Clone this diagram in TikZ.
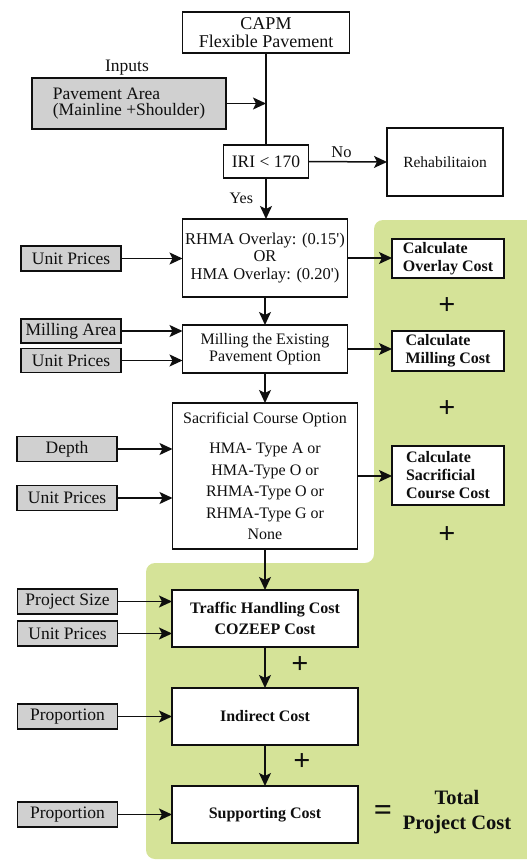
\documentclass[tikz,border=0pt]{standalone}
\usepackage{fontspec}
\setmainfont{Liberation Serif}
\usetikzlibrary{arrows.meta,calc}
\definecolor{bggreen}{RGB}{213,227,152}
\definecolor{boxgray}{RGB}{208,208,208}
\definecolor{ink}{RGB}{15,15,15}
\begin{document}
\begin{tikzpicture}[x=1pt,y=-1pt,
  every node/.style={inner sep=0pt, outer sep=0pt, text=ink},
  box/.style={draw=ink, line width=1.6pt, fill=white, align=center},
  inbox/.style={draw=ink, line width=1.6pt, fill=boxgray, align=center,
    minimum width=100pt, minimum height=25pt, font=\fontsize{17.5}{16.5}\selectfont},
  calcbox/.style={draw=ink, line width=1.6pt, fill=white, align=left,
    minimum width=112pt, font=\fontsize{16}{18}\selectfont\bfseries},
  plussign/.style={font=\fontsize{30}{30}\selectfont\bfseries},
  arr/.style={draw=ink, line width=1.5pt, -{Stealth[length=13pt,width=12pt,inset=3pt]}},
  conn/.style={draw=ink, line width=1.5pt}
]
\useasboundingbox (0,0) rectangle (527,862);
% green background
\begin{scope}
\clip (0,0) rectangle (527,862);
\fill[bggreen, rounded corners=9pt] (374,400) -- (374,220) -- (545,220) -- (545,859) -- (146,859) -- (146,563) -- (374,563) -- cycle;
\end{scope}

% top part
\node[box, minimum width=167pt, minimum height=41pt, font=\fontsize{18}{18}\selectfont] (capm) at (266,32.5) {CAPM\\Flexible Pavement};
\node[font=\fontsize{17.5}{17.5}\selectfont] (inputs) at (127,68) {Inputs};
\node[inbox, minimum width=194pt, minimum height=51pt, align=left] (pav) at (129,103.5) {Pavement Area\\(Mainline +Shoulder)};
\node[box, minimum width=85pt, minimum height=33pt, font=\fontsize{17.5}{17.5}\selectfont] (iri) at (266,161.5) {IRI < 170};
\node[box, minimum width=116pt, minimum height=68pt, font=\fontsize{15.5}{15.5}\selectfont] (rehab) at (445,162) {Rehabilitaion};
\coordinate (j1) at (pav.east -| capm.south);
\draw[conn] (capm.south) -- (iri.north);
\draw[arr] (pav.east) -- (j1);
\draw[arr] (iri.east) -- node[pos=0.42, above=4pt, font=\fontsize{16.5}{16.5}\selectfont] {No} (rehab.west);

% overlay
\node[box, minimum width=165pt, minimum height=78pt, font=\fontsize{16.5}{17.5}\selectfont] (rhma) at (265,258) {RHMA Overlay: (0.15\textquotesingle)\\OR\\HMA Overlay: (0.20\textquotesingle)};
\draw[arr] (iri.south) -- node[pos=0.5, left=13pt, font=\fontsize{16}{16}\selectfont] {Yes} (iri.south |- rhma.north);
\node[inbox] (up1) at (71,258.5) {Unit Prices};
\draw[arr] (up1.east) -- (up1.east -| rhma.west);
\node[calcbox, minimum height=39pt] (cov) at (448,258.5) {Calculate\\Overlay Cost};
\draw[arr] (rhma.east) -- (rhma.east -| cov.west);
\node[plussign] (p1) at (447,306) {+};

% milling
\node[box, minimum width=165pt, minimum height=48pt, font=\fontsize{16}{17}\selectfont] (mill) at (265,349) {Milling the Existing\\Pavement Option};
\draw[arr] (rhma.south) -- (mill.north);
\node[inbox, minimum height=24pt] (ma) at (71,331) {Milling Area};
\node[inbox, minimum height=24pt] (up2) at (71,360.5) {Unit Prices};
\draw[arr] (ma.east) -- (ma.east -| mill.west);
\draw[arr] (up2.east) -- (up2.east -| mill.west);
\node[calcbox, minimum height=40pt] (cmi) at (448,351) {Calculate\\Milling Cost};
\draw[arr] (mill.east) -- (mill.east -| cmi.west);
\node[plussign] (p2) at (447,409) {+};

% sacrificial
\node[box, minimum width=185pt, minimum height=146pt, font=\fontsize{16}{21.5}\selectfont] (sac) at (265,476) {Sacrificial Course Option\\[8.5pt]HMA- Type A or\\HMA-Type O or\\RHMA-Type O or\\RHMA-Type G or\\None};
\draw[arr] (mill.south) -- (sac.north);
\node[inbox] (depth) at (67,449) {Depth};
\node[inbox] (up3) at (67,498) {Unit Prices};
\draw[arr] (depth.east) -- (depth.east -| sac.west);
\draw[arr] (up3.east) -- (up3.east -| sac.west);
\node[calcbox, minimum height=59pt] (csac) at (448,475.5) {Calculate\\Sacrificial\\Course Cost};
\draw[arr] (sac.east) -- (sac.east -| csac.west);
\node[plussign] (p3) at (447,535) {+};

% lower costs
\node[box, minimum width=186pt, minimum height=57pt, font=\fontsize{16}{21}\selectfont\bfseries] (tr) at (265,618.5) {Traffic Handling Cost\\COZEEP Cost};
\draw[arr] (sac.south) -- (tr.north);
\node[inbox] (ps) at (67.5,601.5) {Project Size};
\node[inbox] (up4) at (67.5,633.5) {Unit Prices};
\draw[arr] (ps.east) -- (ps.east -| tr.west);
\draw[arr] (up4.east) -- (up4.east -| tr.west);

\node[box, minimum width=186pt, minimum height=57pt, font=\fontsize{16}{21}\selectfont\bfseries] (ind) at (265,716.5) {Indirect Cost};
\draw[arr] (tr.south) -- (ind.north);
\node[plussign] (p4) at (300,665) {+};
\node[inbox] (pr1) at (67.5,716.5) {Proportion};
\draw[arr] (pr1.east) -- (pr1.east -| ind.west);

\node[box, minimum width=186pt, minimum height=57pt, font=\fontsize{16}{21}\selectfont\bfseries] (sup) at (265,814.5) {Supporting Cost};
\draw[arr] (ind.south) -- (sup.north);
\node[plussign] (p5) at (302,762) {+};
\node[inbox] (pr2) at (67.5,814.5) {Proportion};
\draw[arr] (pr2.east) -- (pr2.east -| sup.west);

\node[font=\fontsize{32}{32}\selectfont\bfseries] (eq) at (383,813) {=};
\node[align=center, font=\fontsize{20.5}{25}\selectfont\bfseries] (total) at (457,812) {Total\\Project Cost};
\end{tikzpicture}
\end{document}
